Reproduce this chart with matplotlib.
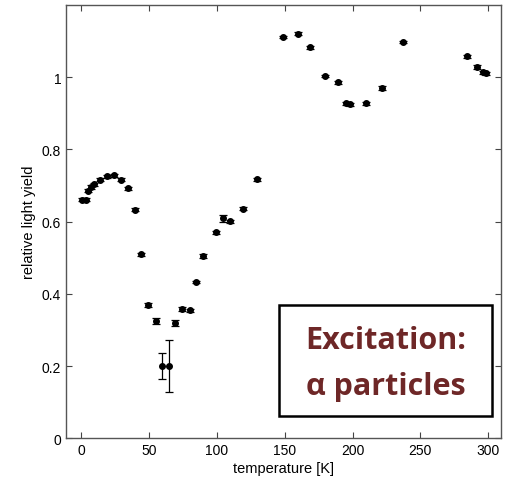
import numpy as np
import matplotlib
matplotlib.use("Agg")
import matplotlib.pyplot as plt
from matplotlib.patches import Rectangle

# temperature [K] and relative light yield
temp = [1, 3.5, 5.5, 7.5, 9.5, 14, 19.5, 24.5, 29.5, 34.5, 39.5, 44.5, 49.5, 55,
        59.5, 64.5, 69.5, 74.5, 80, 85, 90, 99.5, 104.5, 109.5, 119.5, 129.5,
        149, 160, 169, 180, 189.5, 195.5, 198, 210, 222, 237.5, 284, 291.5, 296, 298]
lyield = [0.661, 0.661, 0.686, 0.696, 0.703, 0.716, 0.725, 0.728, 0.716, 0.692,
          0.633, 0.510, 0.370, 0.325, 0.200, 0.200, 0.320, 0.359, 0.355, 0.433,
          0.505, 0.570, 0.609, 0.601, 0.636, 0.717, 1.111, 1.120, 1.082, 1.003,
          0.986, 0.928, 0.925, 0.927, 0.970, 1.097, 1.057, 1.028, 1.013, 1.010]
err = [0.004, 0.004, 0.005, 0.005, 0.005, 0.004, 0.004, 0.004, 0.004, 0.004,
       0.004, 0.004, 0.005, 0.008, 0.036, 0.072, 0.009, 0.006, 0.004, 0.004,
       0.006, 0.004, 0.010, 0.004, 0.005, 0.004, 0.004, 0.004, 0.004, 0.004,
       0.004, 0.004, 0.004, 0.004, 0.005, 0.004, 0.004, 0.005, 0.004, 0.004]

xticks = [0, 50, 100, 150, 200, 250, 300]
yticks = [0, 0.2, 0.4, 0.6, 0.8, 1.0]
yticklabels = ["0", "0.2", "0.4", "0.6", "0.8", "1"]

plt.rcParams['font.family'] = ['Liberation Sans', 'DejaVu Sans']

fig = plt.figure(figsize=(5.16, 4.85), dpi=100)
ax = fig.add_axes([0.128, 0.094, 0.842, 0.894])

ax.errorbar(temp, lyield, yerr=err, fmt='o', color='black', ms=4,
            elinewidth=0.9, capsize=3, capthick=0.9)

ax.set_xlim(-11, 309)
ax.set_ylim(0, 1.2)
ax.set_xticks(xticks)
ax.set_yticks(yticks)
ax.set_yticklabels(yticklabels)
ax.tick_params(direction='in', top=True, right=True, length=4, width=0.8,
               labelsize=10, colors='#444444', labelcolor='black')
for s in ax.spines.values():
    s.set_color('#555555')
    s.set_linewidth(1.0)

ax.set_xlabel("temperature [K]", fontsize=10.5, labelpad=3)
ax.set_ylabel("relative light yield", fontsize=10.5, labelpad=4)

ax.add_patch(Rectangle((0.491, 0.052), 0.489, 0.256, transform=ax.transAxes,
                       fill=False, edgecolor='black', linewidth=1.8, zorder=5))
ax.text(0.7355, 0.226, "Excitation:", transform=ax.transAxes, ha='center',
        va='center', fontsize=22, fontweight='bold', color='#6e2727',
        family=['Open Sans', 'DejaVu Sans'])
ax.text(0.7355, 0.122, "α particles", transform=ax.transAxes, ha='center',
        va='center', fontsize=22, fontweight='bold', color='#6e2727',
        family=['Open Sans', 'DejaVu Sans'])

fig.savefig("out.png", dpi=100)
